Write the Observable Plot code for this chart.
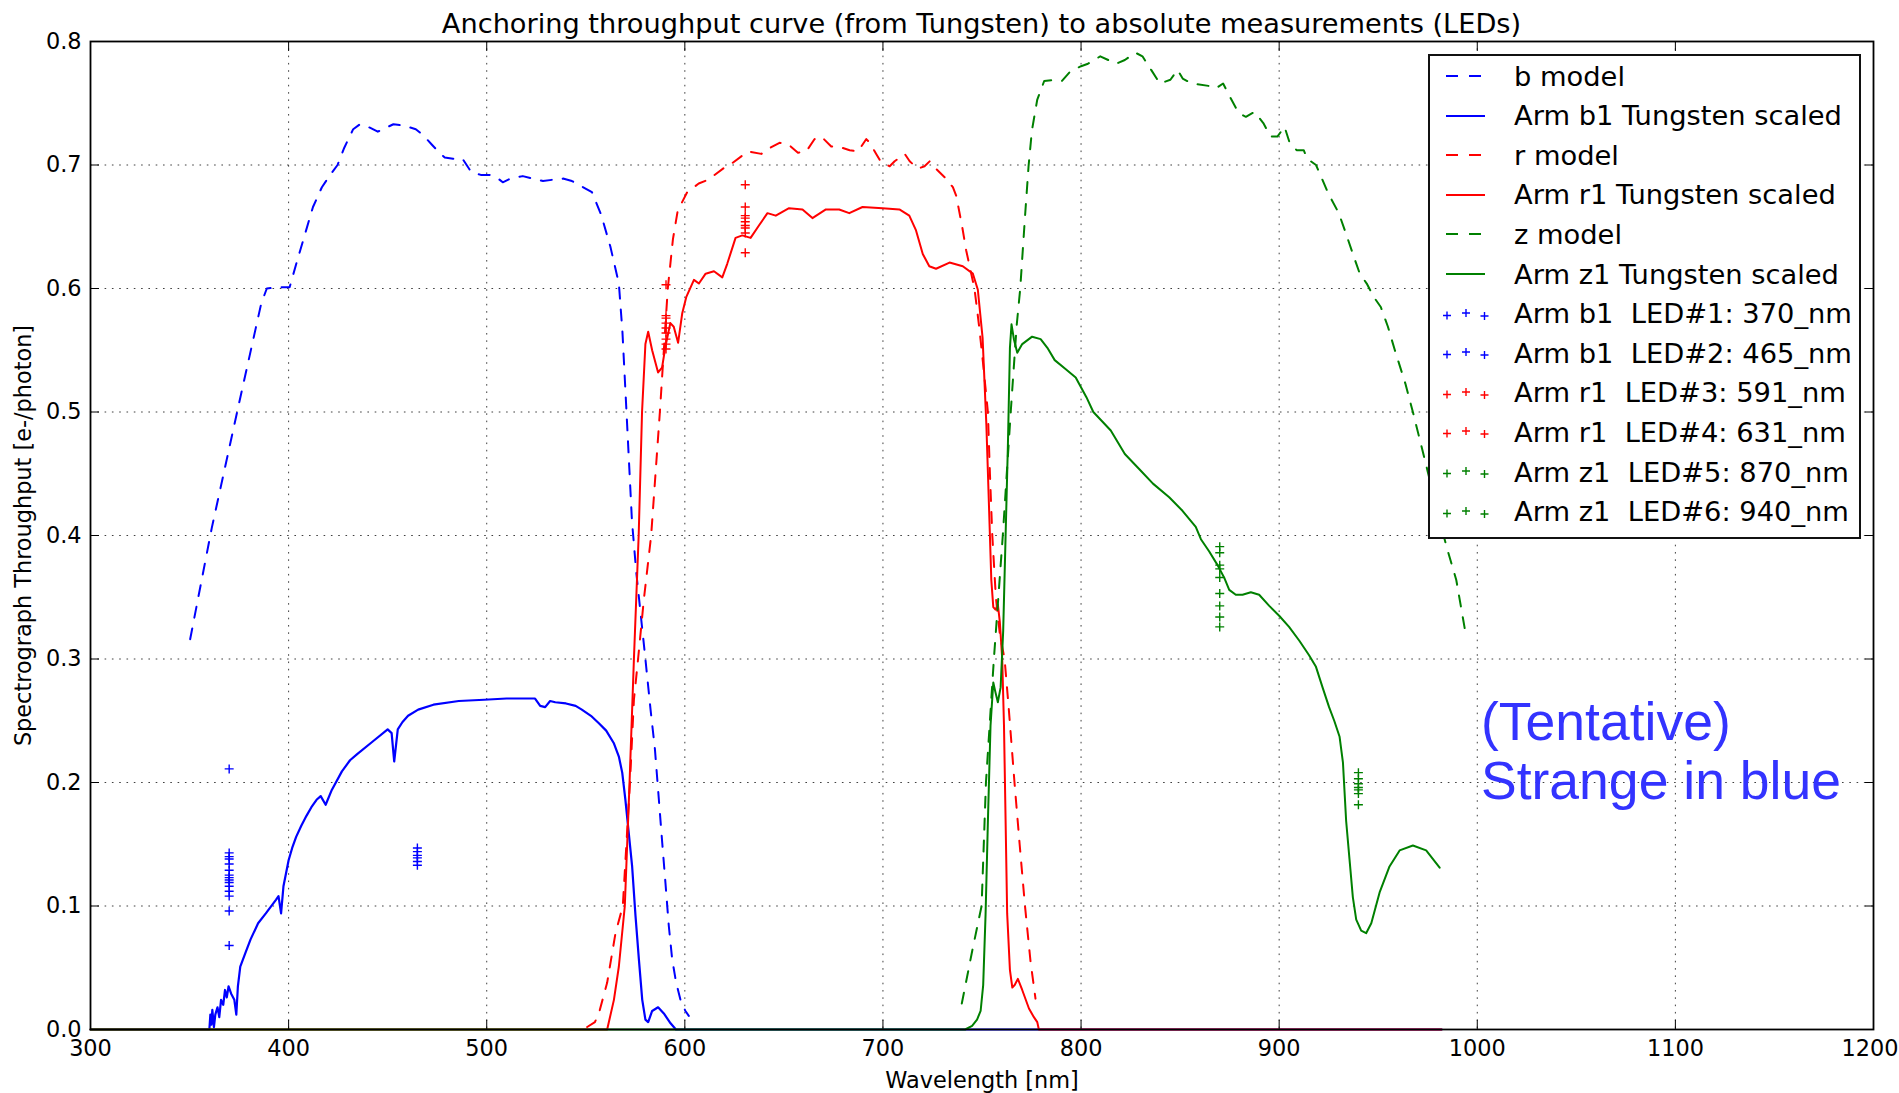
<!DOCTYPE html>
<html><head><meta charset="utf-8">
<script src="https://cdn.jsdelivr.net/npm/d3@7"></script>
<script src="https://cdn.jsdelivr.net/npm/@observablehq/plot@0.6"></script>
<style>
html,body{margin:0;padding:0;background:#fff;}
#wrap{position:relative;width:1899px;height:1093px;overflow:hidden;font-family:"DejaVu Sans",sans-serif;color:#000;}
#title{position:relative;top:9px;margin-left:90px;width:1783px;height:30px;line-height:30px;font-size:27.2px;text-align:center;white-space:nowrap;}
#chart svg{display:block;overflow:visible;}
#legend{position:absolute;left:1428px;top:54px;width:429px;height:481px;border:2px solid #111;background:#fff;}
.row{position:absolute;left:0;height:39.6px;line-height:39.6px;font-size:27.3px;white-space:pre;}
.row svg{position:absolute;left:12px;top:0;}
.row span{position:absolute;left:84px;top:0.5px;}
#note{position:absolute;left:1481px;top:692px;font-family:"Liberation Sans",Arial,sans-serif;font-size:53.5px;line-height:59px;color:#3333ff;white-space:nowrap;}
</style>
</head><body>
<div id="wrap">
<div id="title">Anchoring throughput curve (from Tungsten) to absolute measurements (LEDs)</div>
<div id="chart"></div>
<div id="legend"></div>
<div id="note">(Tentative)<br>Strange in blue</div>
</div>
<script>
// ---- axis ticks ----
const xTicks = [300,400,500,600,700,800,900,1000,1100,1200];
const yTicks = [0,0.1,0.2,0.3,0.4,0.5,0.6,0.7,0.8];

// ---- b model (dashed blue) [nm, throughput] ----
const bModel = [[350.3,0.316],[361.2,0.406],[374.7,0.505],[386.2,0.588],[389,0.600],[395,0.601],[400.5,0.601],[404.4,0.623],[412.3,0.666],[416.8,0.682],[421,0.692],[424.7,0.700],[428.1,0.714],[432.6,0.729],[436,0.733],[440,0.731],[445,0.727],[449,0.730],[452.9,0.733],[458,0.732],[464.2,0.729],[468,0.724],[472,0.717],[475.5,0.711],[478.8,0.706],[483,0.705],[487.8,0.705],[492.3,0.694],[497,0.692],[501.3,0.692],[505,0.690],[508.1,0.686],[512,0.689],[518.2,0.691],[523,0.689],[528.4,0.687],[533,0.688],[538.5,0.689],[543,0.687],[547.6,0.683],[553.1,0.678],[557.7,0.660],[562.4,0.634],[566.7,0.604],[568.5,0.565],[570.4,0.505],[573.3,0.412],[575.5,0.370],[577.8,0.335],[580.1,0.300],[582.7,0.259],[584.9,0.227],[586.9,0.186],[588.6,0.151],[590.2,0.119],[591.9,0.084],[593.6,0.057],[595.6,0.038],[597.8,0.024],[600.3,0.015],[602,0.011]];

// ---- Arm b1 Tungsten scaled (solid blue) ----
const b1Tungsten = [[300,0],[360,0],[360.5,0.012],[361,0.004],[361.5,0.016],[362.3,0.002],[363,0.012],[364.1,0.018],[365,0.010],[365.9,0.024],[367,0.020],[367.9,0.032],[368.8,0.026],[369.7,0.035],[371,0.029],[372.6,0.024],[373.6,0.012],[374.4,0.035],[375.6,0.051],[378.2,0.062],[380.8,0.073],[384.6,0.086],[388.5,0.094],[393.6,0.105],[394.9,0.108],[396.2,0.094],[397.4,0.116],[400,0.137],[401.8,0.147],[403.8,0.156],[406.4,0.165],[409,0.173],[411.5,0.180],[414.1,0.186],[416.2,0.189],[418.7,0.182],[421.8,0.194],[426.9,0.209],[431,0.218],[434.6,0.223],[442.3,0.233],[450,0.243],[452,0.240],[453.3,0.217],[455.1,0.243],[457.5,0.249],[460.3,0.254],[465.4,0.259],[473.1,0.263],[485.9,0.266],[498.7,0.267],[510,0.268],[520,0.268],[524.4,0.268],[527,0.262],[529.5,0.261],[532,0.266],[534.6,0.265],[540,0.264],[544.9,0.262],[548,0.259],[552.6,0.254],[556.6,0.248],[560.3,0.242],[564.1,0.232],[566.7,0.221],[568.4,0.208],[570,0.186],[571.7,0.159],[573.4,0.132],[575.1,0.092],[576.8,0.057],[578.5,0.024],[580.1,0.008],[581.5,0.006],[583.5,0.015],[586.5,0.018],[589.4,0.013],[592.8,0.005],[595.5,0],[982,0]];

// ---- r model (dashed red) ----
const rModel = [[550.7,0.002],[554.6,0.006],[556.6,0.013],[560.8,0.038],[565,0.078],[568.7,0.100],[572.3,0.200],[574.3,0.267],[576.4,0.300],[579.3,0.348],[583,0.400],[587.4,0.500],[591.4,0.600],[594,0.640],[596.4,0.663],[601.2,0.678],[607,0.685],[611.7,0.688],[614.2,0.691],[620.1,0.698],[623.5,0.701],[628.5,0.707],[631.9,0.711],[638.6,0.709],[642,0.713],[647.8,0.718],[652,0.717],[657.1,0.710],[661.3,0.711],[665.5,0.721],[668.9,0.723],[673.9,0.715],[677.3,0.715],[683.2,0.712],[687.4,0.711],[691.6,0.721],[693.3,0.718],[696.6,0.709],[699.2,0.702],[703.4,0.699],[705.9,0.703],[711,0.709],[713.5,0.703],[717.7,0.697],[721,0.699],[723.6,0.703],[726.1,0.698],[731.2,0.690],[735.3,0.682],[737,0.675],[740,0.650],[742,0.631],[746.2,0.600],[748.5,0.570],[750.5,0.540],[752.97,0.500],[754,0.450],[755.2,0.400],[757,0.350],[759,0.320],[761.4,0.300],[763.5,0.260],[766.4,0.200],[769,0.150],[771.7,0.100],[774.5,0.055],[777,0.025]];

// ---- Arm r1 Tungsten scaled (solid red) ----
const r1Tungsten = [[300,0],[560.8,0],[564.2,0.024],[566.7,0.051],[569.7,0.100],[572.1,0.200],[574.3,0.300],[576.7,0.400],[578.4,0.500],[580.1,0.555],[581.5,0.565],[583.5,0.550],[586.5,0.532],[588.5,0.536],[590.2,0.553],[592.7,0.572],[594.4,0.569],[596.6,0.556],[598.7,0.580],[600.7,0.593],[604.6,0.607],[607.1,0.604],[610.5,0.612],[614.7,0.614],[618.9,0.609],[621.4,0.620],[625.6,0.641],[629,0.643],[633.2,0.641],[637.4,0.651],[641.7,0.661],[645.9,0.659],[652.6,0.665],[659.4,0.664],[664.4,0.657],[671.2,0.664],[677.9,0.664],[683,0.661],[689.7,0.666],[699.8,0.665],[708.3,0.664],[713.3,0.659],[716.7,0.647],[720.1,0.628],[723.4,0.618],[726.8,0.616],[733.6,0.621],[740.3,0.618],[745.4,0.612],[747.9,0.599],[750.3,0.560],[752.2,0.490],[753.6,0.420],[754.7,0.364],[755.7,0.342],[756.8,0.340],[758,0.344],[759,0.330],[760.2,0.300],[761.1,0.246],[761.9,0.170],[762.7,0.094],[764.1,0.048],[765.3,0.034],[766.5,0.036],[768.1,0.041],[770.3,0.032],[773.7,0.017],[776.2,0.010],[777.9,0.006],[778.7,0],[982,0]];

// ---- z model (dashed green) ----
const zModel = [[739.8,0.021],[745.1,0.064],[749.8,0.100],[752,0.200],[756,0.300],[760.5,0.400],[764.5,0.500],[767.5,0.570],[769.3,0.600],[771.7,0.658],[773.5,0.699],[775.2,0.728],[777.9,0.753],[781.4,0.768],[786.7,0.769],[790.3,0.768],[794.7,0.776],[800,0.780],[803.5,0.782],[809.7,0.788],[817.7,0.782],[822.1,0.785],[827.4,0.791],[831,0.788],[835.4,0.777],[839.8,0.766],[845.1,0.769],[848.7,0.777],[851.3,0.770],[855.8,0.766],[864.6,0.764],[868.1,0.762],[871.7,0.766],[875.2,0.755],[879.6,0.742],[883.2,0.739],[887.6,0.743],[892,0.734],[895.6,0.723],[899.1,0.723],[902.7,0.731],[905.3,0.718],[908.8,0.712],[912.4,0.712],[914.2,0.705],[918.6,0.700],[924.8,0.677],[930.1,0.661],[933.6,0.645],[937.2,0.628],[940.7,0.612],[944.2,0.604],[947.8,0.593],[951.3,0.585],[954.9,0.569],[958.4,0.550],[963.7,0.523],[967.5,0.500],[974.2,0.457],[979,0.425],[984.3,0.392],[989.4,0.364],[994.4,0.318]];

// ---- Arm z1 Tungsten scaled (solid green) ----
const z1Tungsten = [[300,0],[741.5,0],[745,0.003],[747.5,0.008],[749.3,0.015],[750.6,0.036],[751.8,0.093],[753,0.170],[754.3,0.246],[755.7,0.281],[756.8,0.273],[758,0.265],[759.4,0.277],[760.7,0.323],[761.9,0.399],[763.1,0.475],[764.1,0.552],[764.9,0.571],[766.1,0.559],[767.8,0.548],[770.3,0.555],[775.3,0.561],[779.6,0.559],[783,0.552],[786.7,0.542],[792,0.535],[797.3,0.528],[802.7,0.512],[806.2,0.500],[815,0.485],[822.1,0.466],[829.2,0.454],[836.3,0.442],[844.5,0.431],[851.2,0.420],[857.9,0.407],[860.5,0.397],[864.7,0.387],[868.9,0.376],[872.2,0.366],[874.8,0.356],[878.1,0.352],[881.5,0.352],[885.7,0.354],[889.9,0.352],[895,0.343],[900,0.335],[905,0.326],[910.1,0.315],[915.1,0.303],[918.5,0.294],[921.9,0.277],[925.2,0.261],[927.8,0.250],[930.5,0.237],[932.2,0.216],[933.8,0.169],[935.5,0.138],[937.2,0.107],[938.9,0.089],[941.4,0.080],[943.9,0.078],[946.5,0.086],[950.7,0.111],[955.7,0.132],[960.8,0.145],[967.5,0.149],[974.2,0.145],[981,0.131]];

// ---- LED measurements ----
const ledNm = [370, 465, 590.5, 630.5, 870, 940];
const led1 = [0.211,0.143,0.140,0.138,0.134,0.129,0.125,0.123,0.121,0.119,0.116,0.112,0.108,0.096,0.068];
const led2 = [0.147,0.144,0.141,0.139,0.136,0.133];
const led3 = [0.603,0.578,0.576,0.572,0.568,0.564,0.559,0.555,0.551];
const led4 = [0.684,0.666,0.659,0.657,0.654,0.651,0.649,0.645,0.629];
const led5 = [0.391,0.386,0.376,0.373,0.366,0.353,0.343,0.334,0.326];
const led6 = [0.208,0.203,0.199,0.196,0.194,0.191,0.182];

// ---- legend ----
const legendLabels = ["b model","Arm b1 Tungsten scaled","r model","Arm r1 Tungsten scaled","z model","Arm z1 Tungsten scaled","Arm b1  LED#1: 370_nm","Arm b1  LED#2: 465_nm","Arm r1  LED#3: 591_nm","Arm r1  LED#4: 631_nm","Arm z1  LED#5: 870_nm","Arm z1  LED#6: 940_nm"];
const legendKinds = ["dash","solid","dash","solid","dash","solid","plus","plus","plus","plus","plus","plus"];
const BLUE = "#0000ff", RED = "#ff0000", GREEN = "#008000";
const legendColors = [BLUE,BLUE,RED,RED,GREEN,GREEN,BLUE,BLUE,RED,RED,GREEN,GREEN];

const toObj = arr => arr.map(([x, y]) => ({x, y}));
const ledObj = (nm, vals) => vals.map(y => ({x: nm, y}));

const lineW = 2, dash = "11,11";
const plusStyle = {symbol: "plus", r: 3, strokeWidth: 1.4};
const lastX = xTicks[xTicks.length - 1];

const chart = Plot.plot({
  width: 1899, height: 1063,
  marginTop: 11, marginBottom: 64, marginLeft: 90, marginRight: 26,
  x: {domain: [300, 1200]},
  y: {domain: [0, 0.8]},
  style: {fontFamily: "DejaVu Sans", fontSize: "22.4px", color: "#000", background: "#fff", overflow: "visible"},
  marks: [
    Plot.gridX(xTicks, {stroke: "#000", strokeOpacity: 0.75, strokeWidth: 1, strokeDasharray: "1.6,5.7"}),
    Plot.gridY(yTicks, {stroke: "#000", strokeOpacity: 0.75, strokeWidth: 1, strokeDasharray: "1.6,5.7"}),
    Plot.line(toObj(bModel), {x: "x", y: "y", stroke: BLUE, strokeWidth: lineW, strokeDasharray: dash}),
    Plot.line(toObj(b1Tungsten), {x: "x", y: "y", stroke: BLUE, strokeWidth: 2.2}),
    Plot.line(toObj(rModel), {x: "x", y: "y", stroke: RED, strokeWidth: lineW, strokeDasharray: dash}),
    Plot.line(toObj(r1Tungsten), {x: "x", y: "y", stroke: RED, strokeWidth: lineW}),
    Plot.line(toObj(zModel), {x: "x", y: "y", stroke: GREEN, strokeWidth: lineW, strokeDasharray: dash}),
    Plot.line(toObj(z1Tungsten), {x: "x", y: "y", stroke: GREEN, strokeWidth: lineW}),
    Plot.dot(ledObj(ledNm[0], led1), {x: "x", y: "y", stroke: BLUE, ...plusStyle}),
    Plot.dot(ledObj(ledNm[1], led2), {x: "x", y: "y", stroke: BLUE, ...plusStyle}),
    Plot.dot(ledObj(ledNm[2], led3), {x: "x", y: "y", stroke: RED, ...plusStyle}),
    Plot.dot(ledObj(ledNm[3], led4), {x: "x", y: "y", stroke: RED, ...plusStyle}),
    Plot.dot(ledObj(ledNm[4], led5), {x: "x", y: "y", stroke: GREEN, ...plusStyle}),
    Plot.dot(ledObj(ledNm[5], led6), {x: "x", y: "y", stroke: GREEN, ...plusStyle}),
    Plot.frame({stroke: "#000", strokeWidth: 1.8}),
    Plot.axisX({anchor: "bottom", ticks: xTicks, tickSize: -9, tickPadding: 20, tickFormat: d => d === lastX ? "" : String(d), label: "Wavelength [nm]", labelAnchor: "center", labelArrow: "none", labelOffset: 58}),
    Plot.axisX({anchor: "bottom", ticks: [lastX], tickSize: 0, tickPadding: 11, tickFormat: d => String(d), textAnchor: "end", dx: 25, label: null}),
    Plot.axisX({anchor: "top", ticks: xTicks, tickSize: -9, tickFormat: () => "", label: null}),
    Plot.axisY({anchor: "left", ticks: yTicks, tickSize: -9, tickPadding: 18, tickFormat: d3.format(".1f"), label: "Spectrograph Throughput [e-/photon]", labelAnchor: "center", labelArrow: "none", labelOffset: 75}),
    Plot.axisY({anchor: "right", ticks: yTicks, tickSize: -9, tickFormat: () => "", label: null})
  ]
});
document.getElementById("chart").appendChild(chart);

// build legend
const legend = document.getElementById("legend");
legendLabels.forEach((lab, i) => {
  const row = document.createElement("div");
  row.className = "row";
  row.style.top = (i * 39.6) + "px";
  const c = legendColors[i];
  let sym = "";
  if (legendKinds[i] === "dash") {
    sym = `<line x1="4" y1="20" x2="16" y2="20" stroke="${c}" stroke-width="2"/><line x1="27" y1="20" x2="39" y2="20" stroke="${c}" stroke-width="2"/>`;
  } else if (legendKinds[i] === "solid") {
    sym = `<line x1="4" y1="20" x2="43" y2="20" stroke="${c}" stroke-width="2"/>`;
  } else {
    const pts = [[5, 21.5], [24, 19], [42.5, 22]];
    sym = pts.map(([px, py]) => `<path d="M${px-4},${py}H${px+4}M${px},${py-4}V${py+4}" stroke="${c}" stroke-width="1.4" fill="none"/>`).join("");
  }
  row.innerHTML = `<svg width="50" height="40">${sym}</svg><span>${lab}</span>`;
  legend.appendChild(row);
});
</script>
</body></html>
